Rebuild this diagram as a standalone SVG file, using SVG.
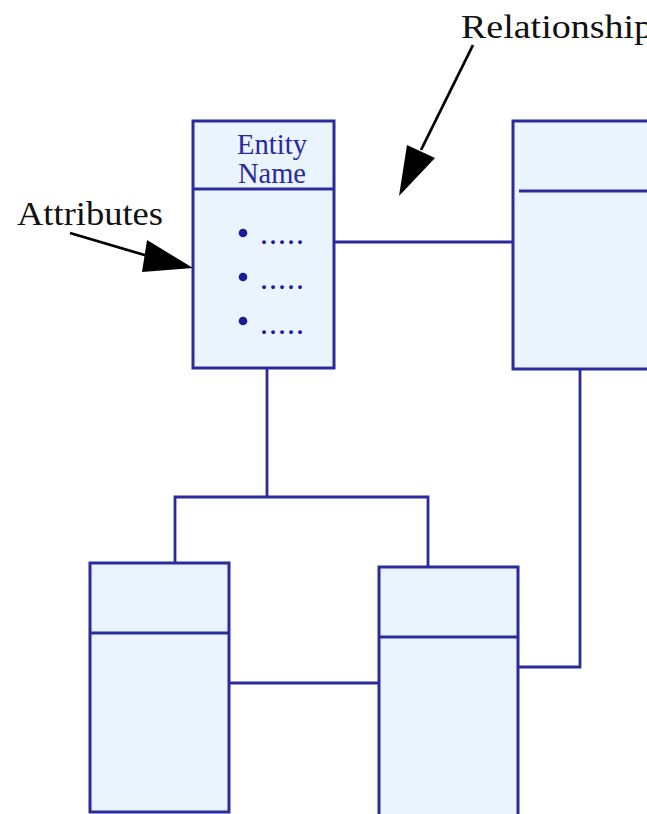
<svg xmlns="http://www.w3.org/2000/svg" width="647" height="814" viewBox="0 0 647 814">
<style>
.box{fill:#eaf4ff;stroke:#2b2b9c;stroke-width:3}
.div{stroke:#2b2b9c;stroke-width:3}
.conn{fill:none;stroke:#2b2b9c;stroke-width:2.8}
.lbl{font-family:"Liberation Serif","Times New Roman",serif;font-size:34px;fill:#111}
.ent{font-family:"Liberation Serif","Times New Roman",serif;font-size:29px;fill:#2a2aa0;text-anchor:middle}
.attr{font-family:"Liberation Serif","Times New Roman",serif;font-size:32px;fill:#1a1a9a}
.arr{stroke:#000;stroke-width:2.8;fill:none}
</style>
<rect width="647" height="814" fill="#fff"/>
<g id="connectors">
<path class="conn" d="M334 242 H513"/>
<path class="conn" d="M267 368 V497 M175 563 V497 H428 V567"/>
<path class="conn" d="M580 369 V667 H519"/>
<path class="conn" d="M229 683 H379"/>
</g>
<g id="entity">
<rect class="box" x="193" y="121" width="141" height="247"/>
<line class="div" x1="193" y1="189" x2="334" y2="189"/>
<text class="ent" x="272" y="154" textLength="70" lengthAdjust="spacingAndGlyphs">Entity</text>
<text class="ent" x="272" y="183" textLength="68" lengthAdjust="spacingAndGlyphs">Name</text>
<circle cx="243" cy="233" r="4.3" fill="#1a1a9a"/>
<circle cx="243" cy="277" r="4.3" fill="#1a1a9a"/>
<circle cx="243" cy="321" r="4.3" fill="#1a1a9a"/>
<text class="attr" x="260" y="244" textLength="44" lengthAdjust="spacing">.....</text>
<text class="attr" x="260" y="289" textLength="44" lengthAdjust="spacing">.....</text>
<text class="attr" x="260" y="334" textLength="44" lengthAdjust="spacing">.....</text>
</g>
<g id="entity-right">
<rect class="box" x="513" y="121" width="140" height="248"/>
<line class="div" x1="519" y1="191" x2="647" y2="191"/>
</g>
<g id="entity-bottom-left">
<rect class="box" x="90" y="563" width="139" height="249"/>
<line class="div" x1="90" y1="633" x2="229" y2="633"/>
</g>
<g id="entity-bottom-right">
<rect class="box" x="379" y="567" width="139" height="252"/>
<line class="div" x1="379" y1="637" x2="518" y2="637"/>
</g>
<g id="label-attributes">
<text class="lbl" x="17" y="225" textLength="146" lengthAdjust="spacingAndGlyphs">Attributes</text>
<line class="arr" x1="70" y1="233" x2="148" y2="256"/>
<polygon points="147,240 142,272 193,268" fill="#000"/>
</g>
<g id="label-relationship">
<text class="lbl" x="461" y="38" textLength="192" lengthAdjust="spacingAndGlyphs">Relationship</text>
<line class="arr" x1="473" y1="45" x2="421" y2="150"/>
<polygon points="407,145 435,158 399,196" fill="#000"/>
</g>
</svg>
